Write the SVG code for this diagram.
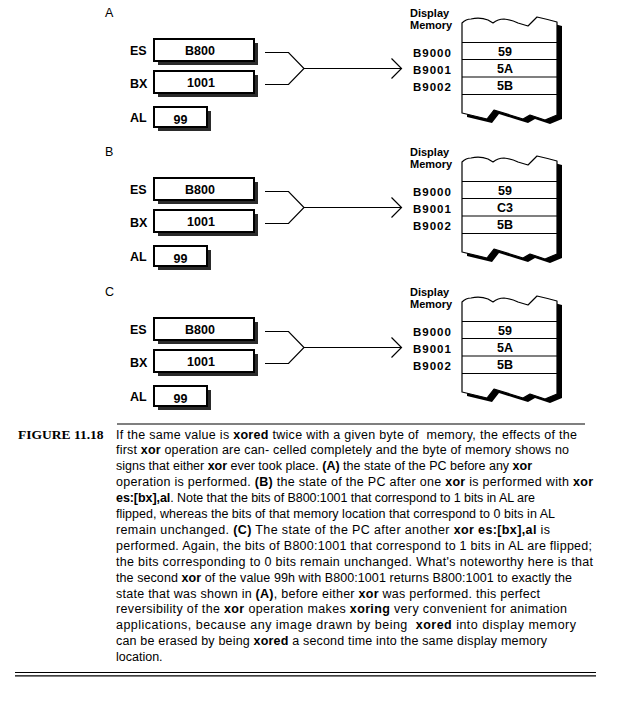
<svg xmlns="http://www.w3.org/2000/svg" xmlns:xlink="http://www.w3.org/1999/xlink" width="617" height="705" viewBox="0 0 617 705">
<style>
  .panel { font-family: "Liberation Sans", Arial, sans-serif; font-size: 12.5px; fill: #000; }
  .reg { font-family: "Liberation Sans", Arial, sans-serif; font-size: 12.5px; font-weight: bold; fill: #000; }
  .val { font-family: "Liberation Sans", Arial, sans-serif; font-size: 12.5px; font-weight: bold; fill: #000; text-anchor: middle; }
  .addr { font-family: "Liberation Sans", Arial, sans-serif; font-size: 11.5px; font-weight: bold; fill: #000; letter-spacing: 1px; }
  .dm { font-family: "Liberation Sans", Arial, sans-serif; font-size: 11px; font-weight: bold; fill: #000; }
  .box { fill: #fff; stroke: #000; stroke-width: 2; }
  .shadow { fill: #2b2b2b; }
  .mem { fill: #fff; stroke: #000; stroke-width: 1.2; stroke-linejoin: round; }
  .memsh { fill: #000; }
  .div { stroke: #000; stroke-width: 1.2; }
  .conn { fill: none; stroke: #000; stroke-width: 1.2; }
  .cap { font-family: "Liberation Sans", Arial, sans-serif; font-size: 12.5px; fill: #000; }
  .cap tspan.b { font-weight: bold; }
  .fig { font-family: "Liberation Serif", "Times New Roman", serif; font-size: 13.5px; font-weight: bold; fill: #000; }
  .rule { stroke: #000; stroke-width: 1.2; }
</style>
<defs>
  <path id="memShape" d="M462,23 Q466,19 471,19 Q480,17 488,20 L493,23 Q498,19 504,19 Q512,20 518,23 L528,26 L537,17 Q546,19 557,22 L557,115 L545,120 L530,115 L523,119 L510,115 L494,110 L487,119 L462,113 Z"/>
  <marker id="chev" viewBox="0 0 12 22" refX="11" refY="11" markerWidth="12" markerHeight="22" markerUnits="userSpaceOnUse" orient="auto">
    <path d="M1,1 L11,11 L1,21" fill="none" stroke="#000" stroke-width="1.2"/>
  </marker>
</defs>

<!-- Panel A -->
<g id="panel-A">
  <text class="panel" x="105" y="16.5">A</text>
  <g id="A-ES">
    <rect class="shadow" x="158" y="43" width="100" height="22"/>
    <rect class="box" x="154" y="39" width="100" height="22"/>
    <text class="reg" x="130" y="55">ES</text>
    <text class="val" x="200" y="54.5">B800</text>
  </g>
  <g id="A-BX">
    <rect class="shadow" x="158" y="75" width="100" height="22"/>
    <rect class="box" x="154" y="71" width="100" height="22"/>
    <text class="reg" x="130" y="88">BX</text>
    <text class="val" x="201" y="87">1001</text>
  </g>
  <g id="A-AL">
    <rect class="shadow" x="158" y="111" width="53" height="20"/>
    <rect class="box" x="154" y="107" width="53" height="20"/>
    <text class="reg" x="130" y="122">AL</text>
    <text class="val" x="180.5" y="124">99</text>
  </g>
  <g id="A-mem">
    <text class="dm" x="410" y="17">Display</text>
    <text class="dm" x="410" y="29">Memory</text>
    <use xlink:href="#memShape" class="memsh" transform="translate(5,4)"/>
    <use xlink:href="#memShape" class="mem"/>
    <line class="div" x1="462" y1="42.5" x2="557" y2="42.5"/>
    <line class="div" x1="462" y1="59.5" x2="557" y2="59.5"/>
    <line class="div" x1="462" y1="77" x2="557" y2="77"/>
    <line class="div" x1="462" y1="94.5" x2="557" y2="94.5"/>
    <text class="addr" x="413" y="56.5">B9000</text>
    <text class="addr" x="413" y="73.5">B9001</text>
    <text class="addr" x="413" y="90.5">B9002</text>
    <text class="val" x="505" y="56">59</text>
    <text class="val" x="505" y="73">5A</text>
    <text class="val" x="505" y="90">5B</text>
  </g>
  <g id="A-connectors">
    <path class="conn" d="M265,52.5 L288.5,52.5 L304,68.5 L288.5,84.5 L265,84.5"/>
    <line class="conn" x1="304" y1="68.5" x2="401.5" y2="68.5" marker-end="url(#chev)"/>
  </g>
</g>

<!-- Panel B -->
<g id="panel-B" transform="translate(0,139)">
  <text class="panel" x="105" y="17">B</text>
  <g id="B-ES">
    <rect class="shadow" x="158" y="43" width="100" height="22"/>
    <rect class="box" x="154" y="39" width="100" height="22"/>
    <text class="reg" x="130" y="55">ES</text>
    <text class="val" x="200" y="54.5">B800</text>
  </g>
  <g id="B-BX">
    <rect class="shadow" x="158" y="75" width="100" height="22"/>
    <rect class="box" x="154" y="71" width="100" height="22"/>
    <text class="reg" x="130" y="88">BX</text>
    <text class="val" x="201" y="87">1001</text>
  </g>
  <g id="B-AL">
    <rect class="shadow" x="158" y="111" width="53" height="20"/>
    <rect class="box" x="154" y="107" width="53" height="20"/>
    <text class="reg" x="130" y="122">AL</text>
    <text class="val" x="180.5" y="124">99</text>
  </g>
  <g id="B-mem">
    <text class="dm" x="410" y="17">Display</text>
    <text class="dm" x="410" y="29">Memory</text>
    <use xlink:href="#memShape" class="memsh" transform="translate(5,4)"/>
    <use xlink:href="#memShape" class="mem"/>
    <line class="div" x1="462" y1="42.5" x2="557" y2="42.5"/>
    <line class="div" x1="462" y1="59.5" x2="557" y2="59.5"/>
    <line class="div" x1="462" y1="77" x2="557" y2="77"/>
    <line class="div" x1="462" y1="94.5" x2="557" y2="94.5"/>
    <text class="addr" x="413" y="56.5">B9000</text>
    <text class="addr" x="413" y="73.5">B9001</text>
    <text class="addr" x="413" y="90.5">B9002</text>
    <text class="val" x="505" y="56">59</text>
    <text class="val" x="505" y="73">C3</text>
    <text class="val" x="505" y="90">5B</text>
  </g>
  <g id="B-connectors">
    <path class="conn" d="M265,52.5 L288.5,52.5 L304,68.5 L288.5,84.5 L265,84.5"/>
    <line class="conn" x1="304" y1="68.5" x2="401.5" y2="68.5" marker-end="url(#chev)"/>
  </g>
</g>

<!-- Panel C -->
<g id="panel-C" transform="translate(0,279)">
  <text class="panel" x="105" y="17">C</text>
  <g id="C-ES">
    <rect class="shadow" x="158" y="43" width="100" height="22"/>
    <rect class="box" x="154" y="39" width="100" height="22"/>
    <text class="reg" x="130" y="55">ES</text>
    <text class="val" x="200" y="54.5">B800</text>
  </g>
  <g id="C-BX">
    <rect class="shadow" x="158" y="75" width="100" height="22"/>
    <rect class="box" x="154" y="71" width="100" height="22"/>
    <text class="reg" x="130" y="88">BX</text>
    <text class="val" x="201" y="87">1001</text>
  </g>
  <g id="C-AL">
    <rect class="shadow" x="158" y="111" width="53" height="20"/>
    <rect class="box" x="154" y="107" width="53" height="20"/>
    <text class="reg" x="130" y="122">AL</text>
    <text class="val" x="180.5" y="124">99</text>
  </g>
  <g id="C-mem">
    <text class="dm" x="410" y="17">Display</text>
    <text class="dm" x="410" y="29">Memory</text>
    <use xlink:href="#memShape" class="memsh" transform="translate(5,4)"/>
    <use xlink:href="#memShape" class="mem"/>
    <line class="div" x1="462" y1="42.5" x2="557" y2="42.5"/>
    <line class="div" x1="462" y1="59.5" x2="557" y2="59.5"/>
    <line class="div" x1="462" y1="77" x2="557" y2="77"/>
    <line class="div" x1="462" y1="94.5" x2="557" y2="94.5"/>
    <text class="addr" x="413" y="56.5">B9000</text>
    <text class="addr" x="413" y="73.5">B9001</text>
    <text class="addr" x="413" y="90.5">B9002</text>
    <text class="val" x="505" y="56">59</text>
    <text class="val" x="505" y="73">5A</text>
    <text class="val" x="505" y="90">5B</text>
  </g>
  <g id="C-connectors">
    <path class="conn" d="M265,52.5 L288.5,52.5 L304,68.5 L288.5,84.5 L265,84.5"/>
    <line class="conn" x1="304" y1="68.5" x2="401.5" y2="68.5" marker-end="url(#chev)"/>
  </g>
</g>

<!-- Caption -->
<g id="caption">
  <line class="rule" x1="117" y1="424" x2="585" y2="424"/>
  <text class="fig" x="18" y="439">FIGURE 11.18</text>
  <text class="cap" xml:space="preserve" x="116" y="438.5" textLength="461" lengthAdjust="spacing">If the same value is <tspan class="b">xored</tspan> twice with a given byte of  memory, the effects of the</text>
  <text class="cap" x="116" y="454.4" textLength="453" lengthAdjust="spacing">first <tspan class="b">xor</tspan> operation are can- celled completely and the byte of memory shows no</text>
  <text class="cap" x="116" y="470.3" textLength="416" lengthAdjust="spacing">signs that either <tspan class="b">xor</tspan> ever took place. <tspan class="b">(A)</tspan> the state of the PC before any <tspan class="b">xor</tspan></text>
  <text class="cap" x="116" y="486.2" textLength="477" lengthAdjust="spacing">operation is performed. <tspan class="b">(B)</tspan> the state of the PC after one <tspan class="b">xor</tspan> is performed with <tspan class="b">xor</tspan></text>
  <text class="cap" x="116" y="502.1" textLength="419" lengthAdjust="spacing"><tspan class="b">es:[bx],al</tspan>. Note that the bits of B800:1001 that correspond to 1 bits in AL are</text>
  <text class="cap" x="116" y="518" textLength="439" lengthAdjust="spacing">flipped, whereas the bits of that memory location that correspond to 0 bits in AL</text>
  <text class="cap" x="116" y="533.9" textLength="434" lengthAdjust="spacing">remain unchanged. <tspan class="b">(C)</tspan> The state of the PC after another <tspan class="b">xor es:[bx],al</tspan> is</text>
  <text class="cap" x="116" y="549.8" textLength="476" lengthAdjust="spacing">performed. Again, the bits of B800:1001 that correspond to 1 bits in AL are flipped;</text>
  <text class="cap" x="116" y="565.7" textLength="477" lengthAdjust="spacing">the bits corresponding to 0 bits remain unchanged. What's noteworthy here is that</text>
  <text class="cap" x="116" y="581.6" textLength="456" lengthAdjust="spacing">the second <tspan class="b">xor</tspan> of the value 99h with B800:1001 returns B800:1001 to exactly the</text>
  <text class="cap" x="116" y="597.5" textLength="424" lengthAdjust="spacing">state that was shown in <tspan class="b">(A)</tspan>, before either <tspan class="b">xor</tspan> was performed. this perfect</text>
  <text class="cap" x="116" y="613.4" textLength="451" lengthAdjust="spacing">reversibility of the <tspan class="b">xor</tspan> operation makes <tspan class="b">xoring</tspan> very convenient for animation</text>
  <text class="cap" xml:space="preserve" x="116" y="629.3" textLength="460" lengthAdjust="spacing">applications, because any image drawn by being  <tspan class="b">xored</tspan> into display memory</text>
  <text class="cap" x="116" y="645.2" textLength="431" lengthAdjust="spacing">can be erased by being <tspan class="b">xored</tspan> a second time into the same display memory</text>
  <text class="cap" x="116" y="661.1">location.</text>
  <line class="rule" x1="15" y1="672.5" x2="596" y2="672.5"/>
  <line class="rule" x1="15" y1="675.8" x2="596" y2="675.8"/>
</g>
</svg>
